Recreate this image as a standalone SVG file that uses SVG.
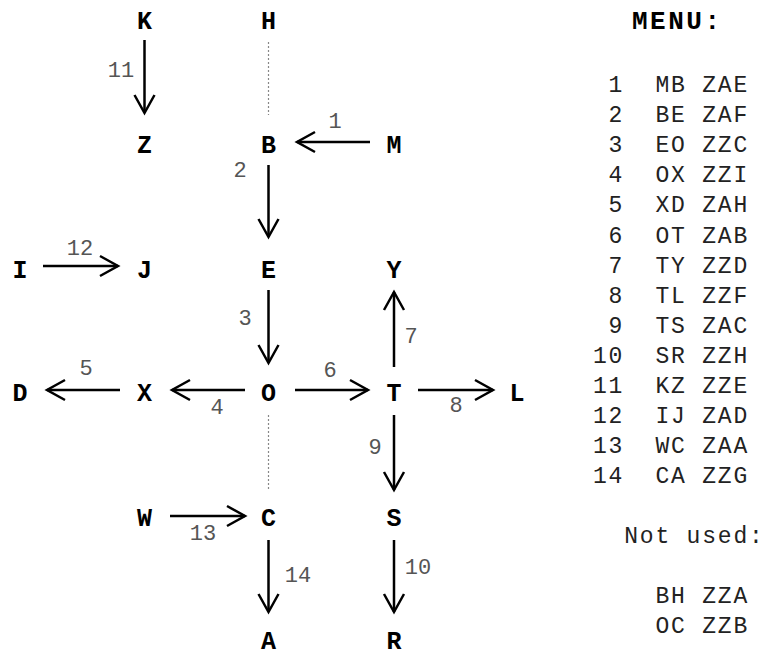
<svg xmlns="http://www.w3.org/2000/svg" width="766" height="656" viewBox="0 0 766 656">
  <style>
    .node { font-family: "Liberation Mono", "DejaVu Sans Mono", monospace; font-weight: bold; font-size: 25px; fill: #000; text-anchor: middle; }
    .lbl { font-family: "Liberation Mono", "DejaVu Sans Mono", monospace; font-size: 22px; fill: #555; text-anchor: middle; }
    .edge { stroke: #000; stroke-width: 2.5; fill: none; marker-end: url(#arr); }
    .dot { stroke: #888; stroke-width: 1.2; stroke-dasharray: 2 2; fill: none; }
    .menu { font-family: "Liberation Mono", "DejaVu Sans Mono", monospace; font-size: 23px; letter-spacing: 1.8px; fill: #222; white-space: pre; }
    .head { font-family: "Liberation Mono", "DejaVu Sans Mono", monospace; font-weight: bold; font-size: 26px; fill: #000; }
  </style>
  <defs>
    <marker id="arr" markerUnits="userSpaceOnUse" viewBox="-22 -13 26 26" refX="0" refY="0" markerWidth="26" markerHeight="26" orient="auto">
      <path d="M-18,-10 L0,0 L-18,10" fill="none" stroke="#000" stroke-width="2.5"/>
    </marker>
  </defs>
  <rect width="766" height="656" fill="#fff"/>

  <!-- connectors -->
  <g id="connectors">
    <line class="dot" x1="268.5" y1="42" x2="268.5" y2="115"/>
    <line class="dot" x1="268.5" y1="415" x2="268.5" y2="490"/>
    <line class="edge" x1="370" y1="142" x2="297" y2="142"/>
    <line class="edge" x1="268.5" y1="165" x2="268.5" y2="237"/>
    <line class="edge" x1="268.5" y1="290" x2="268.5" y2="363"/>
    <line class="edge" x1="245" y1="390" x2="172" y2="390"/>
    <line class="edge" x1="120" y1="390" x2="47" y2="390"/>
    <line class="edge" x1="295" y1="390" x2="368" y2="390"/>
    <line class="edge" x1="394" y1="367" x2="394" y2="292"/>
    <line class="edge" x1="418" y1="390" x2="493" y2="390"/>
    <line class="edge" x1="394" y1="415" x2="394" y2="490"/>
    <line class="edge" x1="394" y1="540" x2="394" y2="612"/>
    <line class="edge" x1="144.5" y1="40" x2="144.5" y2="113"/>
    <line class="edge" x1="43" y1="266" x2="118" y2="266"/>
    <line class="edge" x1="170" y1="516" x2="245" y2="516"/>
    <line class="edge" x1="268.5" y1="540" x2="268.5" y2="612"/>
    <text class="lbl" x="335" y="128">1</text>
    <text class="lbl" x="240" y="177">2</text>
    <text class="lbl" x="245" y="325">3</text>
    <text class="lbl" x="217" y="414">4</text>
    <text class="lbl" x="86" y="375">5</text>
    <text class="lbl" x="330" y="377">6</text>
    <text class="lbl" x="411" y="343">7</text>
    <text class="lbl" x="456" y="412">8</text>
    <text class="lbl" x="375" y="454">9</text>
    <text class="lbl" x="418" y="574">10</text>
    <text class="lbl" x="121" y="77">11</text>
    <text class="lbl" x="80" y="255">12</text>
    <text class="lbl" x="203" y="540">13</text>
    <text class="lbl" x="298" y="582">14</text>
  </g>

  <!-- nodes -->
  <g id="node-K"><text class="node" x="144.5" y="29">K</text></g>
  <g id="node-H"><text class="node" x="268.5" y="29">H</text></g>
  <g id="node-Z"><text class="node" x="144.5" y="153">Z</text></g>
  <g id="node-B"><text class="node" x="268.5" y="153">B</text></g>
  <g id="node-M"><text class="node" x="394" y="153">M</text></g>
  <g id="node-I"><text class="node" x="20" y="278">I</text></g>
  <g id="node-J"><text class="node" x="144.5" y="278">J</text></g>
  <g id="node-E"><text class="node" x="268.5" y="278">E</text></g>
  <g id="node-Y"><text class="node" x="394" y="278">Y</text></g>
  <g id="node-D"><text class="node" x="20" y="401">D</text></g>
  <g id="node-X"><text class="node" x="144.5" y="401">X</text></g>
  <g id="node-O"><text class="node" x="268.5" y="401">O</text></g>
  <g id="node-T"><text class="node" x="394" y="401">T</text></g>
  <g id="node-L"><text class="node" x="517" y="401">L</text></g>
  <g id="node-W"><text class="node" x="144.5" y="526">W</text></g>
  <g id="node-C"><text class="node" x="268.5" y="526">C</text></g>
  <g id="node-S"><text class="node" x="394" y="526">S</text></g>
  <g id="node-A"><text class="node" x="268.5" y="649">A</text></g>
  <g id="node-R"><text class="node" x="394" y="649">R</text></g>

  <!-- menu table -->
  <g id="menu">
    <text class="head" x="632" y="29" textLength="88" lengthAdjust="spacing">MENU:</text>
    <text class="menu" x="593" y="92"> 1  MB ZAE</text>
    <text class="menu" x="593" y="122"> 2  BE ZAF</text>
    <text class="menu" x="593" y="152"> 3  EO ZZC</text>
    <text class="menu" x="593" y="182"> 4  OX ZZI</text>
    <text class="menu" x="593" y="212"> 5  XD ZAH</text>
    <text class="menu" x="593" y="243"> 6  OT ZAB</text>
    <text class="menu" x="593" y="273"> 7  TY ZZD</text>
    <text class="menu" x="593" y="303"> 8  TL ZZF</text>
    <text class="menu" x="593" y="333"> 9  TS ZAC</text>
    <text class="menu" x="593" y="363">10  SR ZZH</text>
    <text class="menu" x="593" y="393">11  KZ ZZE</text>
    <text class="menu" x="593" y="423">12  IJ ZAD</text>
    <text class="menu" x="593" y="453">13  WC ZAA</text>
    <text class="menu" x="593" y="483">14  CA ZZG</text>
    <text class="menu" x="593" y="543">  Not used:</text>
    <text class="menu" x="593" y="603">    BH ZZA</text>
    <text class="menu" x="593" y="633">    OC ZZB</text>
  </g>
</svg>
